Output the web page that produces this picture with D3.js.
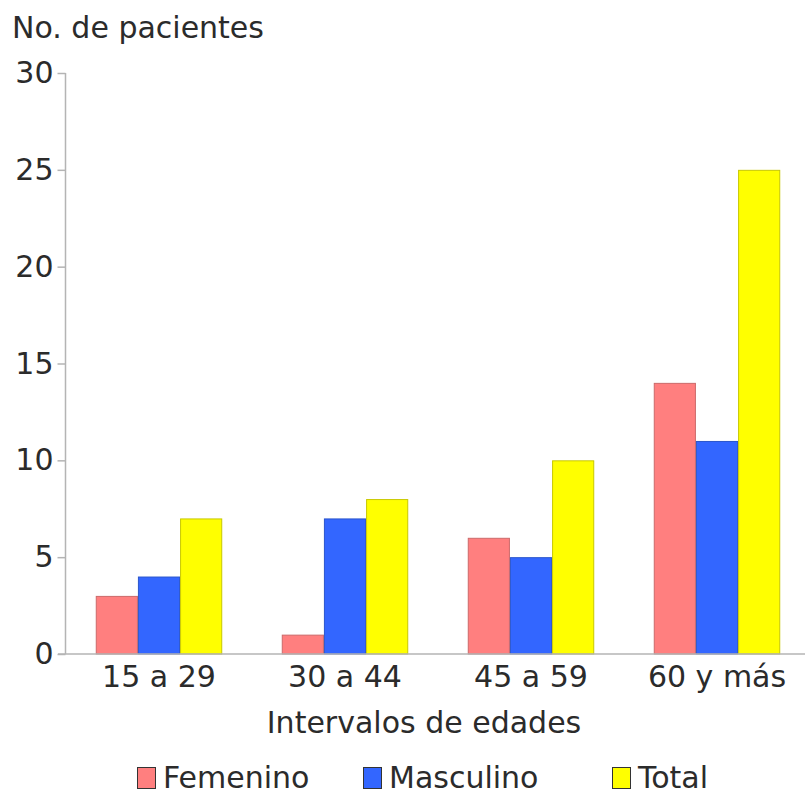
<!DOCTYPE html>
<html>
<head>
<meta charset="utf-8">
<script src="https://cdn.jsdelivr.net/npm/d3@7"></script>
<style>
  html, body { margin: 0; padding: 0; background: #fff; }
  svg { display: block; }
  text { font-family: "DejaVu Sans", Verdana, sans-serif; fill: #2b2b2b; }
</style>
</head>
<body>
<svg id="chart" width="807" height="794"></svg>
<script>
const categories = ["15 a 29", "30 a 44", "45 a 59", "60 y más"];
const seriesNames = ["Femenino", "Masculino", "Total"];
const femenino = [3, 1, 6, 14];
const masculino = [4, 7, 5, 11];
const total = [7, 8, 10, 25];
const yTicks = [0, 5, 10, 15, 20, 25, 30];
const yLabel = "No. de pacientes";
const xLabel = "Intervalos de edades";

const fills = ["#ff7f7f", "#3366ff", "#ffff00"];
const strokes = ["#cc6a6a", "#2a55cc", "#c8c800"];

const seriesValues = [femenino, masculino, total];
const rows = categories.map((c, i) => ({ cat: c, vals: seriesValues.map(s => s[i]) }));

const svg = d3.select("#chart");
const fontSize = 30;
const x0 = 66, x1 = 810, yTop = 73, yBot = 654;

const x = d3.scaleBand().domain(categories).range([x0, x1]).paddingInner(0.32).paddingOuter(0.16);
const xs = d3.scaleBand().domain(seriesNames).range([0, x.bandwidth()]);
const y = d3.scaleLinear().domain([0, 30]).range([yBot, yTop]);

// bars
const g = svg.append("g");
g.selectAll("g.grp").data(rows).join("g")
  .attr("class", "grp")
  .attr("transform", d => `translate(${x(d.cat)},0)`)
  .selectAll("rect").data(d => d.vals.map((v, j) => ({ v, j })))
  .join("rect")
  .attr("x", d => xs(seriesNames[d.j]) + 0.5)
  .attr("width", xs.bandwidth() - 1)
  .attr("y", d => y(d.v) + 0.5)
  .attr("height", d => y(0) - y(d.v) - 0.5)
  .attr("fill", d => fills[d.j])
  .attr("stroke", d => strokes[d.j])
  .attr("stroke-width", 1);

// y axis
const yAxis = d3.axisLeft(y).tickValues(yTicks).tickSize(8).tickPadding(4);
const ya = svg.append("g").attr("transform", `translate(${x0 - 0.5},0)`).call(yAxis);
ya.select(".domain").attr("stroke", "#b4b4b4").attr("stroke-width", 1.5).attr("d", `M0,${yTop}V${yBot}`);
ya.selectAll(".tick line").attr("stroke", "#b4b4b4").attr("stroke-width", 1.5);
ya.selectAll(".tick text").style("font-size", fontSize + "px").attr("fill", "#2b2b2b")
  .style("font-family", '"DejaVu Sans", Verdana, sans-serif');

// x axis
const xAxis = d3.axisBottom(x).tickSize(0).tickPadding(12);
const xa = svg.append("g").attr("transform", `translate(0,${yBot})`).call(xAxis);
xa.select(".domain").attr("stroke", "#b4b4b4").attr("stroke-width", 1.5).attr("d", `M${x0 - 8},0H805`);
xa.selectAll(".tick text").style("font-size", fontSize + "px").attr("fill", "#2b2b2b")
  .style("font-family", '"DejaVu Sans", Verdana, sans-serif');

// labels
svg.append("text").attr("x", 12).attr("y", 38).style("font-size", fontSize + "px").text(yLabel);
svg.append("text").attr("x", 424).attr("y", 733).attr("text-anchor", "middle").style("font-size", fontSize + "px").text(xLabel);

// legend
const legendX = [137, 363, 612];
const lg = svg.append("g");
seriesNames.forEach((n, i) => {
  lg.append("rect").attr("x", legendX[i] + 0.5).attr("y", 767.5).attr("width", 18).attr("height", 21)
    .attr("fill", fills[i]).attr("stroke", "#333").attr("stroke-width", 1);
  lg.append("text").attr("x", legendX[i] + 26).attr("y", 788).style("font-size", fontSize + "px").text(n);
});
</script>
</body>
</html>
